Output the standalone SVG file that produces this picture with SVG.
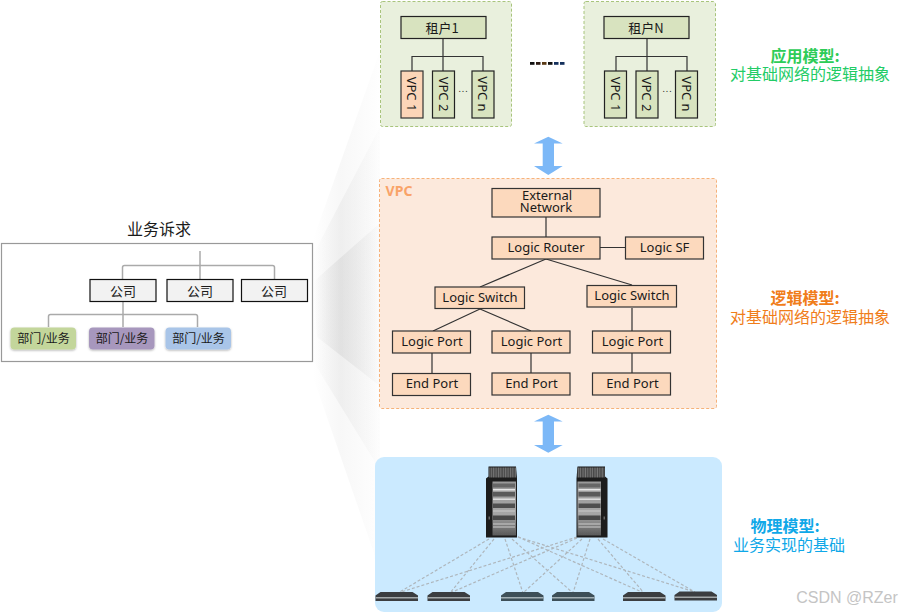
<svg xmlns="http://www.w3.org/2000/svg" width="899" height="613" viewBox="0 0 899 613">
<defs>
<style>
text{font-family:"Noto Sans","Noto Sans CJK SC","Liberation Sans",sans-serif;font-size:13px;fill:#1a1a1a;text-anchor:middle;dominant-baseline:central}
.cjk{font-family:"Noto Sans CJK SC","Noto Sans",sans-serif}
.co{fill:#f2f2f2;stroke:#111;stroke-width:1.2}
.t{fill:#d8e3bf;stroke:#222;stroke-width:1.2}
.v{fill:#d8e3bf;stroke:#222;stroke-width:1.2}
.l{fill:#fcd9bd;stroke:#333;stroke-width:1.2}
.c{fill:none;stroke:#333;stroke-width:1.2}
.g{fill:none;stroke:#aaa;stroke-width:1.5}
.d{fill:none;stroke:#aeb6bc;stroke-width:1.2;stroke-dasharray:3 2}
.a{fill:#7cb8f7}
.dp{filter:url(#shadow)}
.h1{font-size:16px;font-weight:700}
.h2{font-size:16px}
</style>
<linearGradient id="fan" x1="313" x2="382" y1="0" y2="0" gradientUnits="userSpaceOnUse"><stop offset="0" stop-color="#ccc" stop-opacity="0"/><stop offset=".4" stop-color="#ccc" stop-opacity=".42"/><stop offset="1" stop-color="#ccc" stop-opacity=".03"/></linearGradient>
<linearGradient id="rack" x1="0" x2="0" y1="0" y2="1"><stop offset="0" stop-color="#999"/><stop offset=".6" stop-color="#a6a6a6"/><stop offset="1" stop-color="#5a5a5a"/></linearGradient>
<pattern id="stripes" width="2.400" height="4" patternUnits="userSpaceOnUse"><rect width="2.400" height="4" fill="#4a4a4a"/><rect width="1" height="4" fill="#777"/></pattern>
<filter id="soft" x="-10%" y="-10%" width="120%" height="120%"><feGaussianBlur stdDeviation=".6"/></filter>
<filter id="shadow" x="-10%" y="-15%" width="120%" height="135%"><feDropShadow dx="0" dy="1" stdDeviation="1.200" flood-color="#000" flood-opacity=".3"/></filter>
<g id="server" filter="url(#soft)">
<path d="M2.500 0H30L31 12V71H0V12L2.500 10Z" fill="#1c1c1c"/>
<rect x="3" y="1" width="27" height="10" fill="url(#stripes)"/>
<rect x="6.500" y="15" width="23.500" height="54" fill="url(#rack)"/>
<rect x="7" y="17" width="22" height="4" fill="#666"/>
<rect x="7" y="22.500" width="22" height="1.500" fill="#e6e6e6"/>
<rect x="7" y="25.500" width="22" height="4.500" fill="#5a5a5a"/>
<rect x="7" y="32" width="22" height="1.500" fill="#ddd"/>
<rect x="7" y="37" width="22" height="4.500" fill="#505050"/>
<rect x="7" y="44" width="22" height="1" fill="#ccc"/>
<rect x="7" y="49" width="22" height="4.500" fill="#484848"/>
<rect x="7" y="57" width="22" height="1" fill="#ccc"/>
<rect x="7" y="60" width="22" height="1" fill="#ccc"/>
<rect x="2.500" y="50" width="1.500" height="3" fill="#666"/>
</g>
<g id="switch" filter="url(#soft)">
<path d="M5 0H37L42.500 3.500V9H0V3.500Z" fill="#3b3e40"/><rect x="0" y="5" width="42.500" height="1.500" fill="#a3a8aa"/>
</g>
<g id="switch2" filter="url(#soft)">
<path d="M5 0H37L42.500 3.500V9H0V3.500Z" fill="#3d5058"/><rect x="0" y="5" width="42.500" height="1.500" fill="#a3b0b5"/>
</g>
</defs>
<rect width="899" height="613" fill="#fff"/>
<g id="backdrop">
<path d="M313 240L380 51V600L374 553L310 368Z" fill="url(#fan)" opacity=".35"/>
<path d="M313 255L380 127V470L313 361Z" fill="url(#fan)" opacity=".5"/>
<path d="M313 282L380 223V386L317 337Z" fill="url(#fan)" opacity=".9"/>
</g>
<g id="panels">
<rect x="380.500" y="1.500" width="131" height="125" rx="2" fill="#e9f0dd" stroke="#a8c47c" stroke-dasharray="3 2"/>
<rect x="584" y="1.500" width="131.500" height="125" rx="2" fill="#e9f0dd" stroke="#a8c47c" stroke-dasharray="3 2"/>
<rect x="379.500" y="178.500" width="337" height="230" rx="2" fill="#fce9dc" stroke="#f6b27a" stroke-dasharray="3 2"/>
<rect x="375" y="457" width="347" height="155" rx="9" fill="#cbeaff"/>
<rect x="1.500" y="243.500" width="311" height="118" fill="#fff" stroke="#999" stroke-width="1.2"/>
</g>
<g id="connectors">
<path class="c" d="M443 39V56M412 71V56.500H483V71M443 56V71M647 39V56M616 71V56.500H687V71M647 56V71"/>
<path class="g" d="M200 251V279M122.500 279V267.500Q122.500 265.500 124.500 265.500H272.500Q274.500 265.500 274.500 267.500V279M123 302V327M48.500 327V316.500Q48.500 314.500 50.500 314.500H195.500Q197.500 314.500 197.500 316.500V327"/>
<path class="c" d="M546 217V237M600 247.500H625M546 259L480 287M546 259L632 285M480 309L433 331M480 309L531 331M632 308V331M432 353V373M531 353V373M632 353V373"/>
<g id="fabric">
<path class="d" d="M489 539L398 593M494 539L450 593M505 539L523 593M512 539L573 593M518 537L644 593M518 537L695 592M577 537L398 593M577 538L450 593M582 539L523 593M590 539L573 593M598 539L644 593M603 539L695 592"/>
</g>
</g>
<g id="tenant1"><rect class="t" x="401" y="16.500" width="85" height="22"/><text class="cjk" x="442" y="27">租户1</text></g>
<g id="tenant1-vpc1"><rect x="401" y="71" width="22" height="47" fill="#fcd5b8" stroke="#333" stroke-width="1.200"/><text transform="translate(412 94) rotate(90)">VPC 1</text></g>
<g id="tenant1-vpc2"><rect class="v" x="432.500" y="71" width="22" height="47"/><text transform="translate(443.500 94) rotate(90)">VPC 2</text></g>
<g id="tenant1-vpcn"><rect class="v" x="472" y="71" width="22" height="47"/><text transform="translate(483 94) rotate(90)">VPC n</text></g>
<text x="463.500" y="88" style="font-size:9px;letter-spacing:1px">...</text>
<g id="tenantN"><rect class="t" x="604" y="16.500" width="85" height="22"/><text class="cjk" x="646" y="27">租户N</text></g>
<g id="tenantN-vpc1"><rect class="v" x="604.500" y="71" width="22" height="47"/><text transform="translate(615.500 94) rotate(90)">VPC 1</text></g>
<g id="tenantN-vpc2"><rect class="v" x="636" y="71" width="22" height="47"/><text transform="translate(647 94) rotate(90)">VPC 2</text></g>
<g id="tenantN-vpcn"><rect class="v" x="675.500" y="71" width="22" height="47"/><text transform="translate(686.500 94) rotate(90)">VPC n</text></g>
<text x="667.500" y="88" style="font-size:9px;letter-spacing:1px">...</text>
<g id="ellipsis"><rect x="530" y="62" width="4.500" height="2.800" fill="#111"/><rect x="536" y="62" width="4.500" height="2.800" fill="#2b1a12"/><rect x="542" y="62" width="4.500" height="2.800" fill="#5a3a16"/><rect x="548" y="62" width="4.500" height="2.800" fill="#111"/><rect x="554" y="62" width="4.500" height="2.800" fill="#14305c"/><rect x="560" y="62" width="4.500" height="2.800" fill="#14305c"/></g>
<path id="arrow-top" class="a" d="M548.300 136.700L562.700 143.500H554V166H562.700L548.300 175L534 166H542.700V143.500H534Z"/>
<path id="arrow-bottom" class="a" d="M548.300 414.700L562.700 421.500H554V445H562.700L548.300 452.700L534 445H542.700V421.500H534Z"/>
<text x="399" y="190" style="font-size:14px;font-weight:700;fill:#f9a368">VPC</text>
<g id="external"><rect class="l" x="492" y="188.500" width="108" height="28.500"/><text><tspan x="547" y="195">External</tspan><tspan x="546" y="207">Network</tspan></text></g>
<g id="router"><rect class="l" x="492" y="237" width="108" height="22"/><text x="546" y="247">Logic Router</text></g>
<g id="sf"><rect class="l" x="625.500" y="237" width="78" height="22"/><text x="664.500" y="247">Logic SF</text></g>
<g id="sw1"><rect class="l" x="435" y="287" width="89.500" height="21.500"/><text x="480" y="297">Logic Switch</text></g>
<g id="sw2"><rect class="l" x="587" y="285.500" width="89.500" height="21.500"/><text x="632" y="295">Logic Switch</text></g>
<g id="lp1"><rect class="l" x="392.500" y="331" width="78" height="22"/><text x="432" y="341">Logic Port</text></g>
<g id="lp2"><rect class="l" x="492" y="331" width="78" height="22"/><text x="531.500" y="341">Logic Port</text></g>
<g id="lp3"><rect class="l" x="592.500" y="331" width="78" height="22"/><text x="632.500" y="341">Logic Port</text></g>
<g id="ep1"><rect class="l" x="392.500" y="373.500" width="78" height="22"/><text x="432" y="383">End Port</text></g>
<g id="ep2"><rect class="l" x="492" y="373" width="78" height="22"/><text x="531.500" y="383">End Port</text></g>
<g id="ep3"><rect class="l" x="592.500" y="373" width="78" height="22"/><text x="632.500" y="383">End Port</text></g>
<g id="spines"><use href="#server" transform="translate(486 466.500)"/><use href="#server" transform="translate(607.500 466.500) scale(-1 1)"/></g>
<g id="leaves"><use href="#switch" x="375.500" y="592"/><use href="#switch" x="427.500" y="592"/><use href="#switch2" x="501" y="592"/><use href="#switch2" x="552" y="592"/><use href="#switch" x="623" y="592"/><use href="#switch" x="674.500" y="591.500"/></g>
<text class="cjk" x="159" y="227.500" style="font-size:16px">业务诉求</text>
<g id="co1"><rect class="co" x="90" y="279.500" width="66" height="22"/><text class="cjk" x="123" y="290">公司</text></g>
<g id="co2"><rect class="co" x="167" y="279.500" width="66" height="22"/><text class="cjk" x="200" y="290">公司</text></g>
<g id="co3"><rect class="co" x="241.500" y="279.500" width="66" height="22"/><text class="cjk" x="274" y="290">公司</text></g>
<g id="d1"><rect class="dp" x="10.500" y="327.500" width="65.500" height="22" rx="4" fill="#c3d69b"/><text x="43.500" y="337.500" class="cjk" style="font-size:12px">部门/业务</text></g>
<g id="d2"><rect class="dp" x="89" y="327.500" width="65.500" height="22" rx="4" fill="#a797bd"/><text x="122" y="337.500" class="cjk" style="font-size:12px">部门/业务</text></g>
<g id="d3"><rect class="dp" x="165.500" y="327.500" width="65.500" height="22" rx="4" fill="#a9c5e8"/><text x="198.500" y="337.500" class="cjk" style="font-size:12px">部门/业务</text></g>
<g id="legend">
<text class="cjk"><tspan class="h1" x="805" y="54.500" style="fill:#2ecc57">应用模型:</tspan><tspan class="h2" x="810" y="73" style="fill:#22cc66">对基础网络的逻辑抽象</tspan></text>
<text class="cjk"><tspan class="h1" x="805" y="296.500" style="fill:#f07d1a">逻辑模型:</tspan><tspan class="h2" x="810" y="315.500" style="fill:#f07d1a">对基础网络的逻辑抽象</tspan></text>
<text class="cjk"><tspan class="h1" x="785" y="524.500" style="fill:#0fa8e8">物理模型:</tspan><tspan class="h2" x="789" y="543.500" style="fill:#0fa8e8">业务实现的基础</tspan></text>
</g>
<text x="847" y="597" style="font-family:'Liberation Sans',sans-serif;font-size:16px;fill:#c4c4c4">CSDN @RZer</text>
</svg>
